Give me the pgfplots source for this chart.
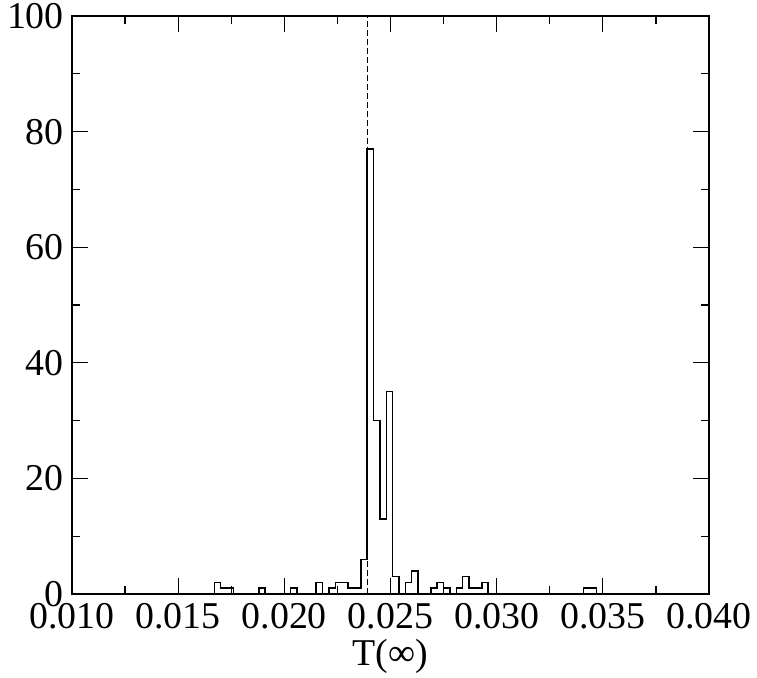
\documentclass[border=0pt]{standalone}
\usepackage{fontspec}
\setmainfont{Liberation Serif}
\usepackage{pgfplots}
\pgfplotsset{compat=1.18}

\begin{document}
\begin{tikzpicture}
\begin{axis}[
    scale only axis,
    width=637bp, height=578bp,
    xmin=0.010, xmax=0.040,
    ymin=0, ymax=100,
    scaled x ticks=false,
    xtick={0.010,0.015,0.020,0.025,0.030,0.035,0.040},
    xticklabels={0.010,0.015,0.020,0.025,0.030,0.035,0.040},
    ytick={0,20,40,60,80,100},
    yticklabels={0,20,40,60,80,100},
    minor x tick num=1,
    minor y tick num=1,
    tick align=inside,
    xtick pos=both, ytick pos=both,
    major tick length=16bp,
    minor tick length=8bp,
    every tick/.style={black, line width=1.2bp},
    axis line style={line width=1.5bp},
    tick label style={font=\fontsize{38}{44}\selectfont, inner sep=0pt},
    xticklabel style={anchor=north, yshift=-9bp},
    yticklabel style={anchor=east, xshift=-8bp},
    xlabel={T(∞)},
    xlabel style={font=\fontsize{38}{44}\selectfont, inner sep=0pt,
        at={(axis description cs:0.5,0)}, anchor=north, yshift=-45bp},
]

% histogram outline (bin width 0.0003)
\addplot[black, line width=1.5bp, const plot mark left] coordinates {
  (0.0100,0)
  (0.0167,2)
  (0.0170,1)
  (0.0173,1)
  (0.0176,0)
  (0.0188,1)
  (0.0191,0)
  (0.0203,1)
  (0.0206,0)
  (0.0215,2)
  (0.0218,0)
  (0.0221,1)
  (0.0224,2)
  (0.0227,2)
  (0.0230,1)
  (0.0233,1)
  (0.0236,6)
  (0.0239,77)
  (0.0242,30)
  (0.0245,13)
  (0.0248,35)
  (0.0251,3)
  (0.0254,0)
  (0.0257,2)
  (0.0260,4)
  (0.0263,0)
  (0.0269,1)
  (0.0272,2)
  (0.0275,1)
  (0.0278,0)
  (0.0281,1)
  (0.0284,3)
  (0.0287,1)
  (0.0290,1)
  (0.0293,2)
  (0.0296,0)
  (0.0341,1)
  (0.0344,1)
  (0.0347,0)
  (0.0400,0)
};

% reference value
\addplot[black, line width=1.2bp, dash pattern=on 6bp off 3bp] coordinates {
  (0.0239,0)
  (0.0239,100)
};

\end{axis}
\path (current axis.south west) ++(-72bp,-84bp) coordinate (bbA);
\path (current axis.north east) ++(48bp,16bp) coordinate (bbB);
\useasboundingbox (bbA) rectangle (bbB);
\end{tikzpicture}
\end{document}
